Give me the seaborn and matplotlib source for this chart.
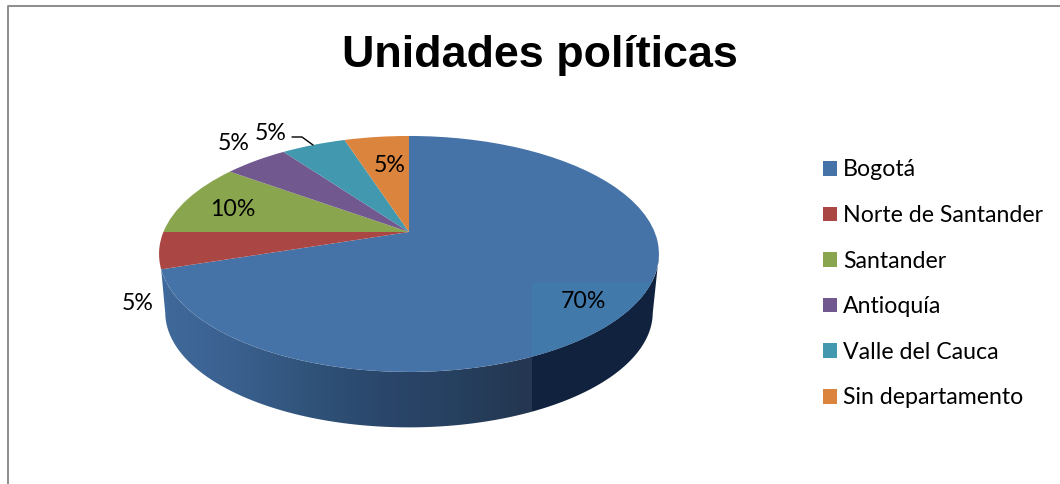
import matplotlib
matplotlib.use("Agg")
import matplotlib.pyplot as plt
import numpy as np
import seaborn as sns
from matplotlib.patches import Polygon, Rectangle
from matplotlib.transforms import Transform

categories = ["Bogotá", "Norte de Santander", "Santander", "Antioquía", "Valle del Cauca", "Sin departamento"]
shares = [70, 5, 10, 5, 5, 5]
share_labels = ["70%", "5%", "10%", "5%", "5%", "5%"]
slice_colors = ["#4572A7", "#AA4643", "#89A54E", "#71588F", "#4198AF", "#DB843D"]
wall_colors = ["#406A9B", "#3A608F", "#305379", "#2A466B", "#26405F", "#243650"]


# Maps the flat unit pie onto a disc seen from above, in pixel coordinates
class TiltedDisc(Transform):
    input_dims = 2
    output_dims = 2

    def __init__(self, cx, cy, a, b, c=0.186):
        super().__init__()
        self.cx, self.cy, self.a, self.b, self.c = cx, cy, a, b, c

    def transform_non_affine(self, values):
        u, v = values[:, 0], values[:, 1]
        w = 1 + self.c * v
        return np.column_stack((self.cx + self.a * u / w, self.cy - self.b * v / w))


def arc(disc, start, stop):
    t = np.radians(np.linspace(start, stop, 200))
    return disc.transform(np.column_stack((np.cos(t), np.sin(t))))


sns.set_theme(style="white")
plt.rcParams["font.family"] = ["Lato", "DejaVu Sans"]

fig = plt.figure(figsize=(10.6, 4.84), dpi=100)
ax = fig.add_axes([0, 0, 1, 1])

palette = sns.color_palette(slice_colors)
wedges, _ = ax.pie(shares, startangle=90, counterclock=False, colors=palette, radius=1,
                   wedgeprops={"edgecolor": "none", "linewidth": 0})

ax.set_aspect("auto")
ax.set_xlim(0, 1060)
ax.set_ylim(484, 0)
ax.set_axis_off()

top_disc = TiltedDisc(409, 232, 245.6, 113.9)
bottom_disc = TiltedDisc(409, 291, 239.5, 111)

for w in wedges:
    w.set_transform(top_disc + ax.transData)
    w.set_zorder(3)

# Side wall of the disc, shaded left to right
wall = Polygon(np.vstack((arc(top_disc, 198, 349), arc(bottom_disc, 349, 191))),
               closed=True, transform=ax.transData, facecolor="none", edgecolor="none")
ax.add_patch(wall)
shade = sns.blend_palette(wall_colors, n_colors=372) + [(0.07, 0.137, 0.247)] * 128
img = ax.imshow(np.array([shade]), extent=(160, 660, 440, 240), aspect="auto", zorder=2)
img.set_clip_path(wall)
ax.set_xlim(0, 1060)
ax.set_ylim(484, 0)

# Lighter box behind the 70% label
box = Rectangle((532, 282), 130, 90, facecolor="#4279AB", edgecolor="none", zorder=4)
ax.add_patch(box)
box.set_clip_path(wedges[0])

label_x = [583, 138, 233, 234, 271, 390]
label_y = [302, 304, 210, 144, 133, 166]
for txt, x, y in zip(share_labels, label_x, label_y):
    ax.text(x, y, txt, ha="center", va="center", fontsize=16.7, color="black", zorder=6)

# Leader line of the Valle del Cauca label
ax.plot([292, 302, 313], [137, 137, 145], color="black", lw=1, zorder=6)

ax.text(539.5, 55.5, "Unidades políticas", ha="center", va="center", fontsize=32.3,
        fontweight="bold", family="Liberation Sans", color="black")

ax.legend(wedges, categories, loc="upper left", bbox_to_anchor=(823, 159.5),
          bbox_transform=ax.transData, frameon=False, fontsize=16.7, borderpad=0,
          borderaxespad=0, handlelength=0.6, handleheight=0.6, handletextpad=0.26,
          labelspacing=1.06, labelcolor="black")

# Chart frame, only top and left are in view
ax.plot([7.5, 7.5, 1060], [484, 5.5, 5.5], color="#8C8C8C", lw=1.4, zorder=1)

fig.savefig("out.png", dpi=100)
